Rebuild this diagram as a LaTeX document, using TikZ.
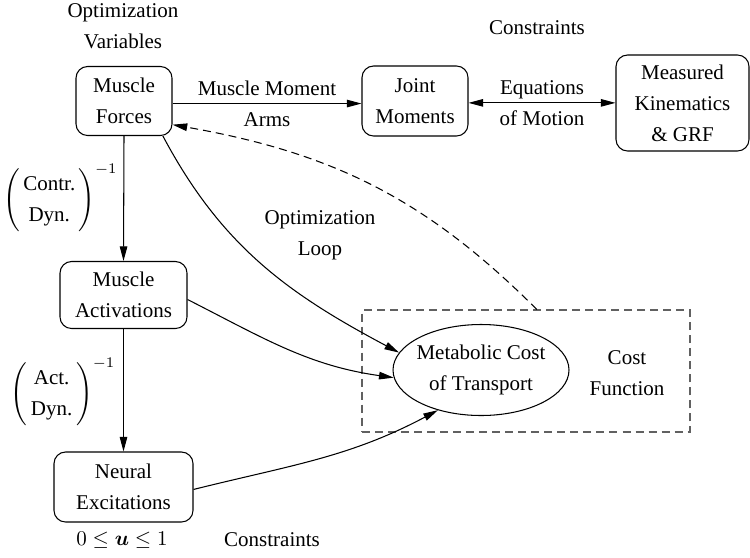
\documentclass[tikz,border=0pt]{standalone}
\usepackage{amsmath}
\usepackage[no-math]{fontspec}
\setmainfont{Liberation Serif}
\usetikzlibrary{arrows.meta,shapes.geometric}
\newcommand\pxunit{0.476pt}
\begin{document}
\begin{tikzpicture}[x=\pxunit, y=-\pxunit,
  every node/.style={font=\fontsize{10}{14.8}\selectfont, align=center, inner sep=0pt},
  >={Triangle[length=7pt,width=3.6pt]},
  line width=0.5pt,
  blockbox/.style={draw, rounded corners=5.5pt},
  dashline/.style={dash pattern=on 3.8pt off 2.4pt},
  flow/.style={->},
]
\useasboundingbox (0,0) rectangle (750,557);

% blocks of the chain
\node[blockbox, minimum width=96*\pxunit, minimum height=69*\pxunit] (forces) at (124,101) {Muscle\\Forces};
\node[blockbox, minimum width=106*\pxunit, minimum height=70*\pxunit] (joint) at (415,101) {Joint\\Moments};
\node[blockbox, minimum width=133*\pxunit, minimum height=96*\pxunit] (meas) at (682.5,103) {Measured\\Kinematics\\\& GRF};
\node[blockbox, minimum width=127*\pxunit, minimum height=67*\pxunit] (act) at (123.5,295) {Muscle\\Activations};
\node[blockbox, minimum width=139*\pxunit, minimum height=70*\pxunit] (neur) at (123.5,487) {Neural\\Excitations};

% cost function group
\node[draw=black!62, dashline, minimum width=328*\pxunit, minimum height=122*\pxunit] (cf) at (526,371) {};
\node[draw, ellipse, inner xsep=-4pt, inner ysep=0pt, minimum width=176*\pxunit, minimum height=91*\pxunit] (met) at (481,370) {Metabolic Cost\\of Transport};
\node (cfl) at (627,373) {Cost\\Function};

% free labels
\node (ovar) at (123,26) {Optimization\\Variables};
\node (tcons) at (537,28) {Constraints};
\node (oloop) at (320,235) {Optimization\\Loop};
\node (ubound) at (122,540) {$0\le\boldsymbol{u}\le1$};
\node (bcons) at (272,540) {Constraints};
\node[anchor=west] (cdyn) at (3,198) {$\left(\begin{tabular}{@{\hspace{1.5pt}}c@{\hspace{1.5pt}}}Contr.\\Dyn.\end{tabular}\right)^{-1}$};
\node[anchor=west] (adyn) at (10,392) {$\left(\begin{tabular}{@{\hspace{1.8pt}}c@{\hspace{1.8pt}}}Act.\\Dyn.\end{tabular}\right)^{-1}$};

% connectors
\draw[flow] (forces.-3) -- node (mma) {Muscle Moment\\Arms} (forces.-3 -| joint.west);
\draw[<->] (joint.-2) -- node (eom) {Equations\\of Motion} (joint.-2 -| meas.west);
\draw[flow] (forces.south) -- (act.north);
\draw[flow] (act.south) -- (neur.north);
\draw[flow] (forces.-42) to[out=-62, in=152] (met.168);
\draw[flow] (act.-4) to[out=-27, in=172] (met.185);
\draw[flow] (neur.-2) to[out=14, in=-152] (met.223);
\draw[flow, dashline] (cf.80) to[out=135, in=-10] (forces.-26);
\end{tikzpicture}
\end{document}
